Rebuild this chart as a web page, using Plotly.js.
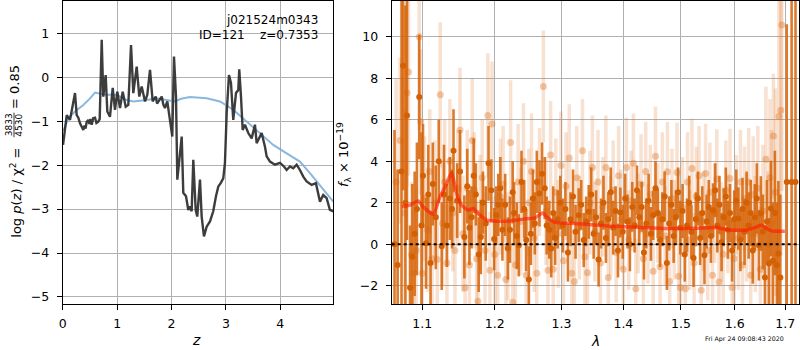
<!DOCTYPE html>
<html>
<head>
<meta charset="utf-8">
<script src="https://cdn.plot.ly/plotly-3.0.1.min.js"></script>
<style>html,body{margin:0;padding:0;background:#fff;}#chart{width:800px;height:350px;}</style>
</head>
<body>
<div id="chart"></div>
<script>
// ---- left panel: p(z) ----
const zDark = [0.006,0.042,0.074,0.134,0.226,0.257,0.287,0.318,0.349,0.379,0.400,0.420,0.440,0.471,0.490,0.510,0.533,0.560,0.594,0.620,0.654,0.680,0.717,0.746,0.790,0.820,0.869,0.919,0.961,1.004,1.053,1.103,1.158,1.206,1.256,1.298,1.360,1.408,1.452,1.513,1.555,1.605,1.654,1.710,1.735,1.757,1.820,1.850,1.880,1.923,1.972,2.015,2.046,2.083,2.107,2.143,2.188,2.217,2.267,2.309,2.340,2.371,2.401,2.445,2.474,2.524,2.555,2.597,2.647,2.708,2.768,2.818,2.860,2.904,2.952,2.983,3.015,3.057,3.094,3.136,3.186,3.228,3.246,3.278,3.309,3.351,3.412,3.474,3.535,3.566,3.627,3.658,3.719,3.750,3.811,3.903,3.994,4.068,4.118,4.178,4.239,4.301,4.362,4.423,4.485,4.577,4.656,4.699,4.730,4.790,4.853,4.913,4.974];
const logpDark = [-1.54,-1.20,-0.86,-0.97,-0.36,-0.86,-0.92,-1.05,-1.15,-1.20,-1.10,-1.17,-1.02,-0.97,-1.06,-0.95,-1.08,-0.93,-0.92,-1.04,-1.01,-0.95,0.85,-0.44,0.05,-0.78,-0.90,-0.24,-0.74,-0.33,-0.70,-0.33,-0.67,-0.63,0.73,-0.36,0.24,-0.44,-0.21,-0.55,-0.40,0.17,-0.55,-0.44,-0.60,-0.55,-0.44,-0.62,-0.70,-0.55,-1.04,-1.35,0.47,-0.44,-2.33,-1.95,-1.35,-2.63,-2.71,-3.02,-2.94,-3.05,-1.88,-3.02,-3.17,-2.33,-3.17,-3.62,-3.40,-3.28,-3.05,-2.71,-2.49,-2.41,-2.30,-1.95,-0.81,0.05,-0.13,-0.97,-0.36,-0.29,0.18,-0.44,-1.20,-1.08,-1.27,-1.39,-1.08,-1.50,-1.35,-1.27,-1.58,-1.80,-1.92,-1.99,-1.95,-2.03,-2.11,-2.03,-2.07,-1.99,-2.11,-2.26,-2.37,-2.45,-2.41,-2.64,-2.83,-2.68,-2.75,-3.02,-3.05];
const zBlue = [0.011,0.103,0.226,0.379,0.502,0.594,0.717,0.809,0.993,1.176,1.298,1.544,1.728,1.912,2.064,2.175,2.340,2.647,2.892,3.136,3.382,3.627,3.871,4.118,4.362,4.546,4.669,4.790,4.974];
const logpBlue = [-1.22,-0.93,-0.78,-0.63,-0.48,-0.35,-0.38,-0.40,-0.40,-0.52,-0.55,-0.52,-0.48,-0.52,-0.55,-0.49,-0.45,-0.48,-0.55,-0.74,-1.01,-1.27,-1.54,-1.73,-1.92,-2.18,-2.37,-2.56,-2.83];

// ---- right panel: spectrum ----
const darkLam = [1.064,1.068,1.073,1.075,1.078,1.080,1.084,1.087,1.090,1.093,
1.096,1.099,1.101,1.105,1.108,1.111,1.114,1.118,1.122,1.126,
1.129,1.133,1.137,1.140,1.142,1.147,1.151,1.157,1.161,1.164,
1.167,1.170,1.173,1.177,1.180,1.183,1.187,1.191,1.195,1.199,
1.202,1.205,1.208,1.211,1.215,1.219,1.222,1.226,1.228,1.232,
1.235,1.239,1.243,1.246,1.250,1.253,1.256,1.259,1.262,1.266,
1.270,1.274,1.277,1.281,1.284,1.287,1.290,1.294,1.298,1.302,
1.306,1.310,1.314,1.318,1.322,1.327,1.331,1.335,1.339,1.343,
1.347,1.351,1.355,1.359,1.363,1.367,1.371,1.375,1.379,1.383,
1.387,1.391,1.395,1.399,1.403,1.407,1.411,1.415,1.419,1.423,
1.427,1.431,1.435,1.439,1.443,1.447,1.451,1.455,1.459,1.463,
1.467,1.471,1.475,1.479,1.483,1.487,1.491,1.495,1.499,1.503,
1.507,1.511,1.515,1.519,1.523,1.527,1.531,1.535,1.539,1.543,
1.547,1.551,1.555,1.559,1.563,1.567,1.571,1.575,1.579,1.583,
1.587,1.591,1.595,1.599,1.603,1.607,1.611,1.615,1.619,1.623,
1.627,1.631,1.635,1.639,1.643,1.647,1.651,1.655,1.659,1.663,
1.667,1.671,1.675,1.679,1.683,1.686,1.690,1.703,1.713,1.721];
const darkFlux = [0.0,-1.0,3.5,8.6,2.0,6.2,-2.1,-0.6,0.5,1.7,
7.1,0.9,3.3,0.05,2.4,-0.9,2.9,1.3,4.0,-0.1,
2.4,0.9,2.2,1.7,4.5,2.1,3.5,0.35,2.8,0.8,
1.3,3.3,2.4,-0.5,0.35,2.0,1.0,3.9,2.6,0.25,
1.4,1.9,2.7,0.7,1.9,-0.2,0.7,2.5,1.5,0.4,
-0.05,3.0,1.7,0.2,-1.7,0.5,2.2,1.0,3.0,2.45,
3.4,2.7,0.9,0.7,-0.2,1.5,0.3,1.2,2.0,0.9,
1.7,-0.4,1.2,2.3,0.6,1.4,1.9,0.2,1.1,1.56,
2.4,0.5,1.3,-0.74,1.0,2.0,0.3,1.2,2.5,0.8,
1.6,-0.3,1.53,0.6,2.2,1.1,0.0,1.8,0.9,2.6,
1.3,1.8,-0.4,1.0,2.1,0.5,1.4,2.7,1.5,0.2,
1.2,2.3,-0.9,1.0,1.9,0.4,1.3,2.5,0.8,1.6,
-0.5,0.9,2.0,0.59,-0.66,1.2,2.2,0.3,1.5,-0.53,
1.1,1.8,0.4,1.64,2.6,0.9,1.9,0.1,1.3,2.3,
0.7,1.5,-0.3,1.2,2.1,1.24,0.2,1.7,0.6,2.0,
0.9,1.5,-0.3,1.3,2.2,-0.05,1.48,0.6,-1.6,1.1,
-0.93,1.72,-0.8,1.5,-1.0,-0.45,-1.6,3.0,3.0,3.0];
const darkErr = [5.5,4.6,9.0,6.0,9.5,6.0,3.0,3.5,3.0,3.2,
3.0,4.5,2.5,2.2,2.4,2.5,2.0,2.5,2.0,2.1,
2.4,2.0,2.0,1.9,2.0,1.8,2.0,2.0,1.8,1.8,
1.5,1.8,1.5,1.8,1.8,1.5,1.8,1.8,1.5,1.5,
1.4,1.5,1.5,1.5,1.5,1.5,1.6,1.5,1.5,1.6,
1.5,1.5,1.4,1.5,1.6,1.5,1.4,1.5,1.5,1.6,
1.5,1.5,1.4,1.4,1.4,1.3,1.3,1.4,1.3,1.3,
1.3,1.4,1.3,1.3,1.3,1.3,1.2,1.3,1.2,1.3,
1.3,1.2,1.3,1.3,1.2,1.3,1.2,1.3,1.2,1.3,
1.2,1.3,1.2,1.3,1.2,1.3,1.3,1.2,1.3,1.2,
1.3,1.2,1.3,1.2,1.3,1.3,1.2,1.3,1.2,1.3,
1.3,1.2,1.3,1.3,1.2,1.3,1.3,1.2,1.3,1.3,
1.3,1.3,1.3,1.3,1.4,1.3,1.3,1.3,1.3,1.4,
1.3,1.3,1.3,1.3,1.3,1.3,1.4,1.4,1.4,1.4,
1.4,1.4,1.5,1.4,1.5,1.5,1.5,1.5,1.6,1.5,
1.6,1.6,1.6,1.6,1.7,1.7,1.8,1.8,2.5,2.0,
2.2,2.3,2.8,3.0,3.0,3.5,4.0,7.6,12,12];

const lightLam = [1.066,1.071,1.077,1.080,1.082,1.086,1.089,1.092,1.096,1.098,
1.100,1.103,1.107,1.110,1.113,1.117,1.120,1.124,1.127,1.130,
1.133,1.137,1.141,1.144,1.148,1.151,1.155,1.158,1.161,1.164,
1.168,1.171,1.174,1.176,1.179,1.182,1.186,1.190,1.193,1.196,
1.200,1.204,1.208,1.212,1.216,1.219,1.223,1.226,1.230,1.234,
1.238,1.242,1.246,1.250,1.254,1.258,1.262,1.266,1.272,1.276,
1.279,1.283,1.287,1.291,1.295,1.299,1.303,1.307,1.312,1.316,
1.320,1.324,1.328,1.333,1.337,1.341,1.345,1.349,1.353,1.358,
1.362,1.366,1.371,1.375,1.379,1.383,1.388,1.392,1.396,1.400,
1.405,1.409,1.413,1.417,1.421,1.425,1.430,1.434,1.438,1.442,
1.446,1.451,1.455,1.459,1.463,1.467,1.472,1.476,1.480,1.484,
1.488,1.493,1.496,1.499,1.503,1.508,1.512,1.516,1.520,1.524,
1.528,1.533,1.537,1.541,1.545,1.549,1.553,1.558,1.562,1.566,
1.570,1.574,1.578,1.583,1.587,1.591,1.595,1.599,1.603,1.607,
1.611,1.615,1.619,1.623,1.627,1.631,1.636,1.640,1.645,1.650,
1.655,1.661,1.665,1.669,1.672,1.676,1.680,1.687,1.691,1.693];
const lightFlux = [3.0,5.0,1.5,7.3,8.3,-0.5,-1.4,-0.3,10.0,5.9,
-1.4,2.2,0.7,3.5,-0.7,2.0,-0.74,7.2,1.0,3.0,
-0.9,4.0,1.5,-0.3,2.7,5.5,0.5,-2.1,2.7,-1.0,
5.0,2.6,-0.7,-2.75,1.5,3.2,-0.3,6.2,-1.25,5.8,
-0.5,-1.5,2.3,2.9,-1.7,-0.1,4.9,-2.8,-1.0,3.0,
1.1,4.0,-1.5,2.0,3.5,0.3,-1.4,3.0,7.6,1.6,
-1.25,4.3,-1.2,2.5,0.5,3.8,-0.8,2.8,4.15,-1.4,
-1.8,3.2,0.8,4.5,-0.6,-1.37,2.0,3.7,0.6,3.0,
-0.9,1.8,3.7,-1.6,0.9,2.6,-0.4,3.3,1.2,-1.2,
3.7,0.2,2.1,3.9,-2.14,1.0,2.9,-0.7,3.5,0.5,
2.4,-1.3,4.24,1.5,-1.09,3.0,0.4,3.49,-1.8,2.2,
0.7,3.46,-1.54,-2.09,1.8,-2.14,3.0,0.2,3.65,-0.9,
2.3,3.3,-2.22,1.1,3.41,-0.3,2.5,-1.5,1.5,3.14,
-1.82,0.6,-0.48,2.6,1.0,3.17,-2.09,-0.69,1.9,0.3,
3.0,-1.0,2.2,0.8,3.0,-1.5,2.4,0.5,2.7,-1.2,
1.6,4.09,0.0,3.2,1.0,5.21,2.5,6.17,6.46,10.56];
const lightErr = [5.0,4.0,5.0,4.5,5.0,3.5,3.0,3.0,4.5,3.5,
3.0,3.0,3.0,3.0,3.0,3.0,2.8,3.5,3.0,3.0,
2.8,3.0,2.8,2.8,2.8,3.0,2.8,2.8,2.8,2.8,
3.0,2.8,2.8,2.8,2.8,2.8,2.8,3.0,2.8,3.0,
2.8,2.8,2.8,2.8,2.8,2.6,3.0,2.8,2.6,2.8,
2.6,2.8,2.6,2.6,2.8,2.6,2.6,2.6,2.7,2.6,
2.6,2.6,2.6,2.6,2.6,2.6,2.6,2.6,2.6,2.5,
2.5,2.5,2.5,2.5,2.5,2.5,2.5,2.5,2.4,2.5,
2.4,2.4,2.5,2.4,2.4,2.4,2.4,2.4,2.4,2.4,
2.4,2.4,2.4,2.4,2.4,2.4,2.4,2.4,2.4,2.4,
2.4,2.4,2.4,2.4,2.4,2.4,2.4,2.4,2.4,2.4,
2.4,2.4,2.4,2.4,2.4,2.4,2.4,2.4,2.4,2.4,
2.4,2.4,2.4,2.4,2.4,2.4,2.4,2.4,2.4,2.4,
2.4,2.4,2.4,2.4,2.4,2.4,2.4,2.4,2.4,2.5,
2.5,2.5,2.5,2.6,2.6,2.7,2.8,2.8,3.0,3.0,
3.2,3.5,3.5,3.8,4.5,3.0,5.0,6.0,7.0,8.0];

const modelLam = [1.0732,1.0839,1.0947,1.1013,1.1146,1.1236,1.1327,1.1395,1.1463,1.1532,1.1624,1.1694,1.1788,1.1883,1.2026,1.2220,1.2416,1.2592,1.2703,1.2770,1.2898,1.3210,1.3748,1.4310,1.4715,1.5223,1.5656,1.5750,1.5907,1.6229,1.6425,1.6524,1.6623,1.6755,1.6992];
const modelFlux = [1.80,1.88,2.09,1.80,1.45,2.28,2.93,3.46,2.45,1.88,1.64,1.72,1.40,1.16,1.11,1.12,1.21,1.27,1.51,1.32,1.05,1.00,0.88,0.81,0.76,0.77,0.81,0.76,0.68,0.68,0.83,0.92,0.76,0.63,0.63];

const zTicks = [0,1,2,3,4];
const pTicks = [-5,-4,-3,-2,-1,0,1];
const lamTicks = [1.1,1.2,1.3,1.4,1.5,1.6,1.7];
const lamTickText = ['1.1','1.2','1.3','1.4','1.5','1.6','1.7'];
const fTicks = [-2,0,2,4,6,8,10];

const FONT = 'DejaVu Sans';
const grid = '#b0b0b0';

const traces = [
  {x: zBlue, y: logpBlue, xaxis:'x', yaxis:'y', mode:'lines', line:{color:'rgba(125,175,218,0.9)', width:2}, hoverinfo:'skip'},
  {x: zDark, y: logpDark, xaxis:'x', yaxis:'y', mode:'lines', line:{color:'rgba(45,45,45,0.92)', width:2.4}, hoverinfo:'skip'},
  {x: lightLam, y: lightFlux, xaxis:'x2', yaxis:'y2', mode:'markers',
   marker:{color:'rgba(225,120,40,0.4)', size:7, line:{width:0}},
   error_y:{type:'data', array: lightErr, visible:true, thickness:3.5, width:0, color:'rgba(225,120,40,0.22)'}, hoverinfo:'skip'},
  {x: darkLam, y: darkFlux, xaxis:'x2', yaxis:'y2', mode:'markers',
   marker:{color:'rgb(212,96,4)', size:6, line:{width:0}},
   error_y:{type:'data', array: darkErr, visible:true, thickness:2.6, width:0, color:'rgba(214,100,8,0.85)'}, hoverinfo:'skip'},
  {x: modelLam, y: modelFlux, xaxis:'x2', yaxis:'y2', mode:'lines', line:{color:'rgba(255,25,0,0.6)', width:3.5, shape:'spline', smoothing:0.5}, hoverinfo:'skip'}
];

const axBase = {showgrid:true, gridcolor:grid, gridwidth:1, zeroline:false, showline:true, mirror:true,
  linecolor:'black', linewidth:1, ticks:'outside', ticklen:5, tickcolor:'black',
  tickfont:{family:FONT, size:12.5, color:'black'}};

const layout = {
  width:800, height:350, margin:{l:0,r:0,t:0,b:0}, showlegend:false,
  paper_bgcolor:'white', plot_bgcolor:'white', font:{family:FONT, color:'black'},
  xaxis: Object.assign({}, axBase, {domain:[0.0784,0.4166], range:[0,4.975], tickvals:zTicks, anchor:'y', ticklabelstandoff:3}),
  yaxis: Object.assign({}, axBase, {domain:[0.1314,0.9971], range:[-5.16,1.735], tickvals:pTicks, anchor:'x', ticklabelstandoff:5}),
  xaxis2: Object.assign({}, axBase, {type:'log', domain:[0.4896,0.9991], range:[Math.log10(1.0604), Math.log10(1.7288)], tickvals:lamTicks, ticktext:lamTickText, anchor:'y2', ticklabelstandoff:3}),
  yaxis2: Object.assign({}, axBase, {domain:[0.1314,0.9971], range:[-2.88,11.72], tickvals:fTicks, anchor:'x2', ticklabelstandoff:5}),
  shapes:[
    {type:'line', xref:'x2 domain', x0:0, x1:1, yref:'y2', y0:0, y1:0, line:{color:'black', width:2, dash:'dot'}},
    {type:'line', xref:'paper', yref:'paper', x0:0.0175, x1:0.0175, y0:0.608, y1:0.678, line:{color:'black', width:0.8}}
  ],
  annotations:[
    {xref:'paper', yref:'paper', x:0.4, y:0.943, xanchor:'right', yanchor:'middle', showarrow:false, text:'j021524m0343', font:{family:FONT, size:12}},
    {xref:'paper', yref:'paper', x:0.4, y:0.9, xanchor:'right', yanchor:'middle', showarrow:false, text:'ID=121\u00a0\u00a0\u00a0\u00a0z=0.7353', font:{family:FONT, size:12}},
    {xref:'paper', yref:'paper', x:0.246, y:0.028, xanchor:'center', yanchor:'middle', showarrow:false, text:'<i>z</i>', font:{family:FONT, size:14}},
    {xref:'paper', yref:'paper', x:0.744, y:0.026, xanchor:'center', yanchor:'middle', showarrow:false, text:'<i>λ</i>', font:{family:FONT, size:14}},
    {xref:'paper', yref:'paper', x:0.93, y:0.031, xanchor:'center', yanchor:'middle', showarrow:false, text:'Fri Apr 24 09:08:43 2020', font:{family:FONT, size:6.3}},
    {xref:'paper', yref:'paper', x:0.019, y:0.45, xanchor:'center', yanchor:'middle', textangle:-90, showarrow:false, text:'log <i>p</i>(<i>z</i>) / χ<sup>2</sup> =', font:{family:FONT, size:13}},
    {xref:'paper', yref:'paper', x:0.0115, y:0.643, xanchor:'center', yanchor:'middle', textangle:-90, showarrow:false, text:'3833', font:{family:FONT, size:9}},
    {xref:'paper', yref:'paper', x:0.0235, y:0.643, xanchor:'center', yanchor:'middle', textangle:-90, showarrow:false, text:'4530', font:{family:FONT, size:9}},
    {xref:'paper', yref:'paper', x:0.019, y:0.752, xanchor:'center', yanchor:'middle', textangle:-90, showarrow:false, text:'= 0.85', font:{family:FONT, size:13}},
    {xref:'paper', yref:'paper', x:0.43, y:0.557, xanchor:'center', yanchor:'middle', textangle:-90, showarrow:false, text:'<i>f</i><sub>λ</sub> × 10<sup>−19</sup>', font:{family:FONT, size:13}}
  ]
};

Plotly.newPlot('chart', traces, layout, {staticPlot:true, displayModeBar:false});
</script>
</body>
</html>
